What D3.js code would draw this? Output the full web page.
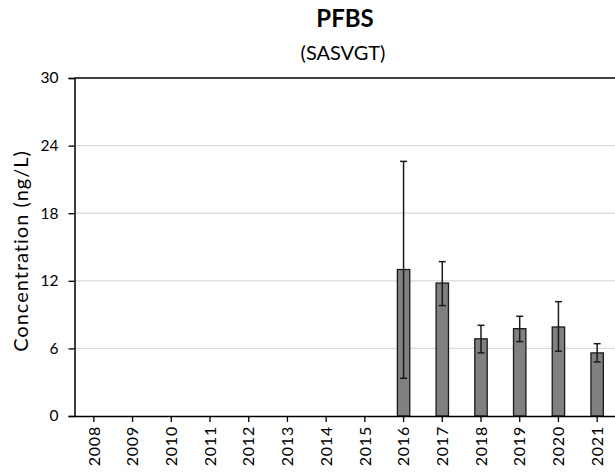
<!DOCTYPE html>
<html><head><meta charset="utf-8">
<script src="https://cdn.jsdelivr.net/npm/d3@7"></script>
<style>body{margin:0;background:#fff}svg{display:block}text{font-family:Lato,"Open Sans",sans-serif;fill:#000}</style>
</head><body><svg id="c" width="615" height="472"></svg>
<script>
const years = ["2008","2009","2010","2011","2012","2013","2014","2015","2016","2017","2018","2019","2020","2021"];
const means = [null,null,null,null,null,null,null,null,13.0,11.8,6.85,7.75,7.9,5.6];
const errLow = [null,null,null,null,null,null,null,null,3.35,9.8,5.6,6.6,5.75,4.8];
const errHigh = [null,null,null,null,null,null,null,null,22.6,13.7,8.05,8.85,10.15,6.42];
const yTicks = [0,6,12,18,24,30];
const title = "PFBS", subtitle = "(SASVGT)", yLabel = "Concentration (ng/L)";

const svg = d3.select("#c");
const L = 74.5, R = 616.5, T = 78, B = 416;
const x = d3.scaleBand().domain(years).range([L, R]).paddingInner(0.68).paddingOuter(0.34);
const y = d3.scaleLinear().domain([0,30]).range([B, T]);

// gridlines
svg.append("g").selectAll("line").data(yTicks.filter(d=>d>0 && d<30)).join("line")
  .attr("x1", L).attr("x2", 615).attr("y1", d=>y(d)).attr("y2", d=>y(d))
  .attr("stroke", "#d9d9d9").attr("stroke-width", 1.3);
// top border
svg.append("line").attr("x1", L).attr("x2", 615).attr("y1", y(30)).attr("y2", y(30)).attr("stroke","#000").attr("stroke-width",1.5);

const data = years.map((yr,i)=>({yr, m:means[i], lo:errLow[i], hi:errHigh[i]})).filter(d=>d.m!=null);
svg.append("g").selectAll("rect").data(data).join("rect")
  .attr("x", d=>x(d.yr)).attr("width", x.bandwidth())
  .attr("y", d=>y(d.m)).attr("height", d=>y(0)-y(d.m))
  .attr("fill", "#808080").attr("stroke", "#1a1a1a").attr("stroke-width", 1.3);

const eg = svg.append("g").attr("stroke","#1a1a1a").attr("stroke-width",1.5);
data.forEach(d=>{
  const cx = x(d.yr)+x.bandwidth()/2;
  eg.append("line").attr("x1",cx).attr("x2",cx).attr("y1",y(d.lo)).attr("y2",y(d.hi));
  [d.lo,d.hi].forEach(v=>eg.append("line").attr("x1",cx-3.5).attr("x2",cx+3.5).attr("y1",y(v)).attr("y2",y(v)));
});

// y axis
const ya = svg.append("g").attr("transform",`translate(${L},0)`)
  .call(d3.axisLeft(y).tickValues(yTicks).tickSize(6).tickPadding(10));
ya.select(".domain").attr("stroke","#000").attr("stroke-width",1.5);
ya.selectAll(".tick line").attr("stroke","#000").attr("stroke-width",1.3);
ya.selectAll(".tick text").attr("font-size",15.5).attr("font-family","Lato,sans-serif").attr("fill","#111");

// x axis
const xa = svg.append("g").attr("transform",`translate(0,${B})`)
  .call(d3.axisBottom(x).tickSize(6).tickSizeOuter(0));
xa.select(".domain").attr("stroke","#000").attr("stroke-width",1.5);
xa.selectAll(".tick line").attr("stroke","#000").attr("stroke-width",1.3);
xa.selectAll(".tick text").attr("font-size",16).attr("font-family","Lato,sans-serif").attr("fill","#111")
  .attr("letter-spacing","0.8px")
  .attr("transform","rotate(-90)").attr("text-anchor","end").attr("x",-10).attr("y",0).attr("dy","0.36em");

svg.append("text").attr("x",345).attr("y",27).attr("text-anchor","middle").attr("font-size",24).attr("font-weight","bold").text(title);
svg.append("text").attr("x",343).attr("y",60).attr("text-anchor","middle").attr("font-size",20).text(subtitle);
svg.append("text").attr("transform","translate(28,251) rotate(-90)").attr("text-anchor","middle").attr("font-size",20).attr("letter-spacing","1px").attr("fill","#111").text(yLabel);
</script></body></html>
